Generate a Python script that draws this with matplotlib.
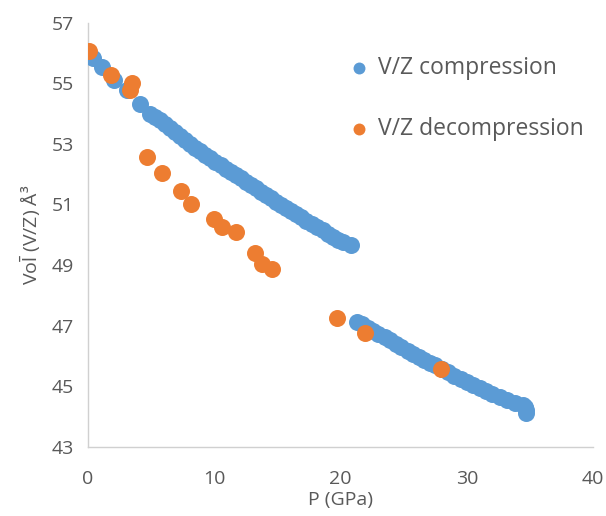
import matplotlib
matplotlib.use("Agg")
import matplotlib.pyplot as plt

plt.rcParams['font.family'] = ['Open Sans', 'DejaVu Sans']
plt.rcParams['mathtext.fontset'] = 'custom'
plt.rcParams['mathtext.rm'] = 'Open Sans'

# compression run (GPa, A^3 per formula unit)
p_comp = [0.0, 0.4, 1.1, 2.1, 3.1, 4.1, 4.9, 5.3, 5.7, 6.1, 6.5, 6.9, 7.3, 7.7,
          8.1, 8.5, 8.9, 9.3, 9.7, 10.1, 10.5, 10.9, 11.3, 11.7, 12.1, 12.5,
          12.9, 13.3, 13.7, 14.1, 14.5, 14.9, 15.3, 15.7, 16.1, 16.5, 16.9,
          17.3, 17.7, 18.1, 18.6, 19.0, 19.4, 19.8, 20.2, 20.8,
          21.3, 21.7, 22.2, 22.6, 23.0, 23.5, 23.9, 24.4, 24.8, 25.3, 25.7,
          26.2, 26.6, 27.1, 27.5, 28.0, 28.5, 29.0, 29.5, 30.0, 30.5, 31.0,
          31.5, 32.0, 32.6, 33.2, 33.8, 34.4, 34.6, 34.7, 34.7]
v_comp = [56.04, 55.85, 55.55, 55.12, 54.79, 54.33, 54.00, 53.88, 53.78, 53.65,
          53.52, 53.40, 53.27, 53.13, 52.99, 52.87, 52.76, 52.64, 52.52, 52.40,
          52.29, 52.18, 52.08, 51.97, 51.86, 51.75, 51.64, 51.53, 51.42, 51.31,
          51.20, 51.09, 50.98, 50.88, 50.78, 50.68, 50.58, 50.47, 50.37, 50.27,
          50.15, 50.03, 49.92, 49.83, 49.75, 49.66,
          47.12, 47.05, 46.93, 46.83, 46.73, 46.62, 46.52, 46.40, 46.30, 46.18,
          46.08, 45.97, 45.88, 45.78, 45.69, 45.57, 45.46, 45.35, 45.25, 45.14,
          45.04, 44.95, 44.86, 44.76, 44.66, 44.55, 44.45, 44.38, 44.30, 44.22,
          44.12]

# decompression run
p_decomp = [0.1, 1.8, 3.5, 3.3, 4.65, 5.9, 7.4, 8.2, 10.0, 10.6, 11.7, 13.2,
            13.8, 14.6, 19.7, 21.9, 27.95]
v_decomp = [56.06, 55.28, 55.02, 54.78, 52.58, 52.05, 51.45, 51.03, 50.53,
            50.27, 50.10, 49.41, 49.05, 48.88, 47.26, 46.77, 45.58]

x_ticks = [0, 10, 20, 30, 40]
y_ticks = [43, 45, 47, 49, 51, 53, 55, 57]

blue = '#5B9BD5'
orange = '#ED7D31'
grey_text = '#595959'

fig = plt.figure(figsize=(6.06, 5.16), dpi=100)
ax = fig.add_axes([0.145, 0.134, 0.834, 0.822])

ax.scatter(p_comp, v_comp, s=150, color=blue, linewidths=0,
           label='V/Z compression', zorder=3)
ax.scatter(p_decomp, v_decomp, s=150, color=orange, linewidths=0,
           label='V/Z decompression', zorder=4)

ax.set_xlim(0, 40)
ax.set_ylim(43, 57)
ax.set_xticks(x_ticks)
ax.set_yticks(y_ticks)
ax.tick_params(length=0, labelsize=14, colors=grey_text)
ax.tick_params(axis='x', pad=17)
ax.tick_params(axis='y', pad=10)

for side in ['top', 'right']:
    ax.spines[side].set_visible(False)
for side in ['left', 'bottom']:
    ax.spines[side].set_color('#D0D0D0')
    ax.spines[side].set_linewidth(1.0)

ax.set_xlabel('P (GPa)', fontsize=14, color=grey_text, labelpad=2)
ax.set_ylabel(r'Vo$\bar{\mathrm{l}}$ (V/Z) Å³', fontsize=14, color=grey_text, labelpad=6)

ax.legend(loc='upper left', bbox_to_anchor=(0.54, 0.91), bbox_transform=fig.transFigure,
          frameon=False, fontsize=16.5, markerscale=0.7, handletextpad=-0.2,
          labelspacing=1.65, labelcolor=grey_text, borderaxespad=0)

fig.savefig('out.png', dpi=100)
